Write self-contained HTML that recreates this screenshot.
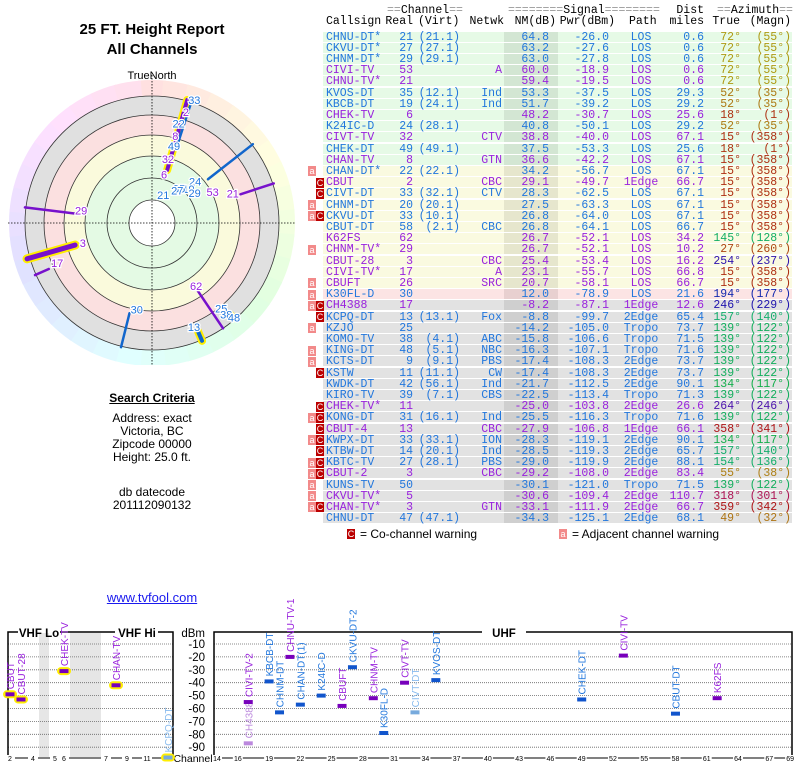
<!DOCTYPE html>
<html><head><meta charset="utf-8">
<style>
body{margin:0;width:800px;height:768px;background:#fff;position:relative;overflow:hidden;font-family:"Liberation Sans",sans-serif}
.t{position:absolute;white-space:nowrap}
.m{font-family:"Liberation Mono",monospace;font-size:11.5px}
.row{position:absolute;left:323px;width:469px;height:11.2px}
.c{position:absolute;top:0;line-height:11.2px;white-space:nowrap;font-family:"Liberation Mono",monospace;font-size:11.5px}
.w{position:absolute;width:8px;height:10px;font-size:9px;line-height:10px;color:#fff;text-align:center;font-family:"Liberation Sans",sans-serif}
</style></head><body>
<div class="t" style="left:52px;top:21px;width:200px;text-align:center;font-weight:bold;font-size:15px">25 FT. Height Report</div>
<div class="t" style="left:52px;top:41px;width:200px;text-align:center;font-weight:bold;font-size:15px">All Channels</div>
<svg id="polar" style="position:absolute;left:0;top:60px" width="300" height="305"></svg>
<div class="t" style="left:52px;top:391px;width:200px;text-align:center;font-weight:bold;font-size:12px;text-decoration:underline">Search Criteria</div>
<div class="t" style="left:52px;top:412px;width:200px;text-align:center;font-size:12px;line-height:13px">Address: exact<br>Victoria, BC<br>Zipcode 00000<br>Height: 25.0 ft.</div>
<div class="t" style="left:52px;top:486px;width:200px;text-align:center;font-size:12px;line-height:13px">db datecode<br>201112090132</div>
<div class="t" style="left:52px;top:590px;width:200px;text-align:center;font-size:13px;color:#1a1aee;text-decoration:underline">www.tvfool.com</div>
<div id="table"></div>
<div class="w" style="left:347px;top:529px;background:#bb0000">C</div>
<div class="t" style="left:360px;top:527px;font-size:12px">= Co-channel warning</div>
<div class="w" style="left:559px;top:529px;background:#f28a8a">a</div>
<div class="t" style="left:572px;top:527px;font-size:12px">= Adjacent channel warning</div>
<svg id="bars" style="position:absolute;left:0;top:0" width="800" height="768"></svg>
<script>
const rows=[
["CHNU-DT*","21","(21.1)","","64.8","-26.0","LOS","0.6","72°","(55°)","d","","g"],
["CKVU-DT*","27","(27.1)","","63.2","-27.6","LOS","0.6","72°","(55°)","d","","g"],
["CHNM-DT*","29","(29.1)","","63.0","-27.8","LOS","0.6","72°","(55°)","d","","g"],
["CIVI-TV","53","","A","60.0","-18.9","LOS","0.6","72°","(55°)","a","","g"],
["CHNU-TV*","21","","","59.4","-19.5","LOS","0.6","72°","(55°)","a","","g"],
["KVOS-DT","35","(12.1)","Ind","53.3","-37.5","LOS","29.3","52°","(35°)","d","","g"],
["KBCB-DT","19","(24.1)","Ind","51.7","-39.2","LOS","29.2","52°","(35°)","d","","g"],
["CHEK-TV","6","","","48.2","-30.7","LOS","25.6","18°","(1°)","a","","g"],
["K24IC-D","24","(28.1)","","40.8","-50.1","LOS","29.2","52°","(35°)","d","","g"],
["CIVT-TV","32","","CTV","38.8","-40.0","LOS","67.1","15°","(358°)","a","","g"],
["CHEK-DT","49","(49.1)","","37.5","-53.3","LOS","25.6","18°","(1°)","d","","g"],
["CHAN-TV","8","","GTN","36.6","-42.2","LOS","67.1","15°","(358°)","a","","g"],
["CHAN-DT*","22","(22.1)","","34.2","-56.7","LOS","67.1","15°","(358°)","d","a","y"],
["CBUT","2","","CBC","29.1","-49.7","1Edge","66.7","15°","(358°)","a","C","y"],
["CIVT-DT","33","(32.1)","CTV","28.3","-62.5","LOS","67.1","15°","(358°)","d","C","y"],
["CHNM-DT","20","(20.1)","","27.5","-63.3","LOS","67.1","15°","(358°)","d","a","y"],
["CKVU-DT","33","(10.1)","","26.8","-64.0","LOS","67.1","15°","(358°)","d","aC","y"],
["CBUT-DT","58","(2.1)","CBC","26.8","-64.1","LOS","66.7","15°","(358°)","d","","y"],
["K62FS","62","","","26.7","-52.1","LOS","34.2","145°","(128°)","a","","y"],
["CHNM-TV*","29","","","26.7","-52.1","LOS","10.2","27°","(260°)","a","a","y"],
["CBUT-28","3","","CBC","25.4","-53.4","LOS","16.2","254°","(237°)","a","","y"],
["CIVI-TV*","17","","A","23.1","-55.7","LOS","66.8","15°","(358°)","a","","y"],
["CBUFT","26","","SRC","20.7","-58.1","LOS","66.7","15°","(358°)","a","a","y"],
["K30FL-D","30","","","12.0","-78.9","LOS","21.6","194°","(177°)","d","a","p"],
["CH4388","17","","","-8.2","-87.1","1Edge","12.6","246°","(229°)","a","aC","x"],
["KCPQ-DT","13","(13.1)","Fox","-8.8","-99.7","2Edge","65.4","157°","(140°)","d","C","x"],
["KZJO","25","","","-14.2","-105.0","Tropo","73.7","139°","(122°)","d","a","x"],
["KOMO-TV","38","(4.1)","ABC","-15.8","-106.6","Tropo","71.5","139°","(122°)","d","","x"],
["KING-DT","48","(5.1)","NBC","-16.3","-107.1","Tropo","71.6","139°","(122°)","d","a","x"],
["KCTS-DT","9","(9.1)","PBS","-17.4","-108.3","2Edge","73.7","139°","(122°)","d","a","x"],
["KSTW","11","(11.1)","CW","-17.4","-108.3","2Edge","73.7","139°","(122°)","d","C","x"],
["KWDK-DT","42","(56.1)","Ind","-21.7","-112.5","2Edge","90.1","134°","(117°)","d","","x"],
["KIRO-TV","39","(7.1)","CBS","-22.5","-113.4","Tropo","71.3","139°","(122°)","d","","x"],
["CHEK-TV*","11","","","-25.0","-103.8","2Edge","26.6","264°","(246°)","a","C","x"],
["KONG-DT","31","(16.1)","Ind","-25.5","-116.3","Tropo","71.6","139°","(122°)","d","aC","x"],
["CBUT-4","13","","CBC","-27.9","-106.8","1Edge","66.1","358°","(341°)","a","C","x"],
["KWPX-DT","33","(33.1)","ION","-28.3","-119.1","2Edge","90.1","134°","(117°)","d","aC","x"],
["KTBW-DT","14","(20.1)","Ind","-28.5","-119.3","2Edge","65.7","157°","(140°)","d","C","x"],
["KBTC-TV","27","(28.1)","PBS","-29.0","-119.9","2Edge","88.1","154°","(136°)","d","aC","x"],
["CBUT-2","3","","CBC","-29.2","-108.0","2Edge","83.4","55°","(38°)","a","aC","x"],
["KUNS-TV","50","","","-30.1","-121.0","Tropo","71.5","139°","(122°)","d","a","x"],
["CKVU-TV*","5","","","-30.6","-109.4","2Edge","110.7","318°","(301°)","a","a","x"],
["CHAN-TV*","3","","GTN","-33.1","-111.9","2Edge","66.7","359°","(342°)","a","aC","x"],
["CHNU-DT","47","(47.1)","","-34.3","-125.1","2Edge","68.1","49°","(32°)","d","","x"]
];
function azColor(a){
  const t=[[0,0],[20,14],[50,38],[72,52],[140,150],[160,155],[194,232],[250,245],[264,262],[318,335],[360,360]];
  let h=0;for(let i=0;i<t.length-1;i++){if(a>=t[i][0]&&a<=t[i+1][0]){h=t[i][1]+(a-t[i][0])/(t[i+1][0]-t[i][0])*(t[i+1][1]-t[i][1]);break;}}
  return `hsl(${h%360},80%,38%)`;
}
const tb=document.getElementById('table');
const bgs={g:'#e6fae6',y:'#fafae0',p:'#fce4e4',x:'#e2e2e2'};
const nmbg={g:'#d3e6d3',y:'#e6e6cd',p:'#e8d0d0',x:'#cfcfcf'};
function cell(parent,txt,x,align,color,name){
  const s=document.createElement('span');s.className='c';s.textContent=txt;
  
  
  if(align==='r'){s.style.right=(792-x)+'px';}else if(align==='c'){s.style.left=(x-323-30)+'px';s.style.width='60px';s.style.textAlign='center';}else s.style.left=(x-323)+'px';
  s.style.color=color;parent.appendChild(s);
}
function hdr(txt,x,y,align,name){
  const d=document.createElement('div');d.className='t m';
  
  
  d.style.top=y+'px';d.style.lineHeight='11px';
  if(align==='r'){d.style.right=(800-x)+'px';}else d.style.left=x+'px';
  d.innerHTML=txt.replace(/(=+)/g,'<span style="color:#999">$1</span>');
  tb.appendChild(d);
}
hdr('==Channel==',387,5,'l','channel-group-header');
hdr('========Signal========',508,5,'l','signal-group-header');
hdr('Dist',704,5,'r','dist-header');
hdr('==Azimuth==',717,5,'l','azimuth-group-header');
hdr('Callsign',326,16,'l','callsign-header');
hdr('Real',413,16,'r','real-header');
hdr('(Virt)',418,16,'l','virt-header');
hdr('Netwk',504,16,'r','netwk-header');
hdr('NM(dB)',556,16,'r','nm-header');
hdr('Pwr(dBm)',615,16,'r','pwr-header');
hdr('Path',629,16,'l','path-header');
hdr('miles',704,16,'r','miles-header');
hdr('True',740,16,'r','true-header');
hdr('(Magn)',791,16,'r','magn-header');
const RH=11.2;
rows.forEach((r,i)=>{
  const top=31.5+i*RH;
  const row=document.createElement('div');row.className='row';
  
  
  row.style.top=top+'px';row.style.background=bgs[r[12]];
  row.style.borderBottom='1px solid #fff';row.style.boxSizing='border-box';
  const nm=document.createElement('div');nm.style.cssText=`position:absolute;left:181px;width:54px;top:0;height:100%;background:${nmbg[r[12]]}`;
  row.appendChild(nm);
  const col=r[10]==='d'?'#2277dd':'#9922dd';
  cell(row,r[0],326,'l',col,'callsign');
  cell(row,r[1],413,'r',col,'real-channel');
  cell(row,r[2],460,'r',col,'virtual-channel');
  cell(row,r[3],502,'r',col,'network');
  cell(row,r[4],549,'r',col,'nm-db');
  cell(row,r[5],609,'r',col,'power-dbm');
  cell(row,r[6],641,'c',col,'path');
  cell(row,r[7],704,'r',col,'distance');
  const ac=azColor(parseFloat(r[8]));
  cell(row,r[8],741,'r',ac,'azimuth-true');
  cell(row,r[9],791,'r',ac,'azimuth-magnetic');
  tb.appendChild(row);
  if(r[11].includes('a')){const w=document.createElement('div');w.className='w';w.textContent='a';
    
    
    w.style.left='308px';w.style.top=(top+0.5)+'px';w.style.background='#f28a8a';tb.appendChild(w);}
  if(r[11].includes('C')){const w=document.createElement('div');w.className='w';w.textContent='C';
    
    
    w.style.left='316px';w.style.top=(top+0.5)+'px';w.style.background='#bb0000';tb.appendChild(w);}
});

// ---------- Polar chart ----------
const polarAz=[16,18,52,72,277,254,246,194,146,157,139];
const polarRin=[55,78,71,93,75,80,113,93,77,117,120];
const polarRout=[128,128,128,128,128,130,128,128,127,128,125];
const polarColor=['#7711cc','#1166cc','#1166cc','#7711cc','#7711cc','#7711cc','#7711cc','#1166cc','#7711cc','#1166cc','#1166cc'];
const polarWidth=[4,2.5,2.5,2.5,2.5,5,2.5,2.5,2.5,4,2];
const polarHi=[1,0,0,0,0,1,0,0,0,1,1];
const polarLabels=['33','2','22','8','49','32','6','24','19','35','21','27','29','53','21','29','3','17','30','62','13','25','38','48'];
const polarLabelAz=[19,17,15,15,16,14,14,46,47,38,22,38,55,63,70,280,254,247,190,145,158,141,141,139];
const polarLabelR=[130,116,103,90,80,66,50,60,50,44,30,41,52,68,86,72,72,103,88,77,112,110,118,125];
const polarLabelColor=['#2277dd','#9922dd','#2277dd','#9922dd','#2277dd','#9922dd','#9922dd','#2277dd','#2277dd','#2277dd','#2277dd','#2277dd','#2277dd','#9922dd','#9922dd','#9922dd','#9922dd','#9922dd','#2277dd','#9922dd','#2277dd','#2277dd','#2277dd','#2277dd'];
const NS='http://www.w3.org/2000/svg';
const P=document.getElementById('polar');
const cx=152,cy=163;
function el(parent,tag,attrs,name){const e=document.createElementNS(NS,tag);for(const k in attrs)e.setAttribute(k,attrs[k]);
  
  
  parent.appendChild(e);return e;}
function pt(az,r){const a=az*Math.PI/180;return [cx+r*Math.sin(a),cy-r*Math.cos(a)];}
for(let a=0;a<360;a+=10){
  const [x1,y1]=pt(a-5.5,143),[x2,y2]=pt(a+5.5,143);
  el(P,'path',{d:`M${cx},${cy}L${x1},${y1}A143,143 0 0 1 ${x2},${y2}Z`,fill:`hsl(${a*0.95},100%,94%)`},'hue-ring-segment');
}
el(P,'circle',{cx,cy,r:127,fill:'#e0e0e0'},'band-weak');
el(P,'circle',{cx,cy,r:108,fill:'#fbe0e0'},'band-moderate');
el(P,'circle',{cx,cy,r:88,fill:'#fafadc'},'band-good');
el(P,'circle',{cx,cy,r:67,fill:'#e4fae4'},'band-strong');
[127,108,88,67,45].forEach(r=>el(P,'circle',{cx,cy,r,fill:'none',stroke:'#333','stroke-width':0.8},'range-ring'));
el(P,'circle',{cx,cy,r:23,fill:'#fff',stroke:'#333','stroke-width':0.8},'center-circle');
el(P,'line',{x1:8,y1:cy,x2:296,y2:cy,stroke:'#000','stroke-dasharray':'1.5,1.5','stroke-width':0.8},'crosshair-horizontal');
el(P,'line',{x1:cx,y1:15,x2:cx,y2:305,stroke:'#000','stroke-dasharray':'1.5,1.5','stroke-width':0.8},'crosshair-vertical');
const tn=el(P,'text',{x:cx,y:19,'text-anchor':'middle','font-size':11,'font-family':'Liberation Sans, sans-serif'},'true-north-label');tn.textContent='TrueNorth';
polarAz.forEach((az,i)=>{
  const [x1,y1]=pt(az,polarRin[i]),[x2,y2]=pt(az,polarRout[i]);
  if(polarHi[i])el(P,'line',{x1,y1,x2,y2,stroke:'#ffee00','stroke-width':polarWidth[i]+4,'stroke-linecap':'round'},'station-highlight');
  el(P,'line',{x1,y1,x2,y2,stroke:polarColor[i],'stroke-width':polarWidth[i],'stroke-linecap':'round'},'station-direction');
});
polarLabels.forEach((l,i)=>{
  const [x,y]=pt(polarLabelAz[i],polarLabelR[i]);
  const t=el(P,'text',{x,y:y+4,'text-anchor':'middle','font-size':11,fill:polarLabelColor[i],stroke:'#fff','stroke-width':2.5,'paint-order':'stroke','font-family':'Liberation Sans, sans-serif'},'channel-label');
  t.textContent=l;
});

// ---------- Bar chart ----------
const dbTicks=[-10,-20,-30,-40,-50,-60,-70,-80,-90];
const vhfCh=[2,3,4,5,6,7,8,9,10,11,12,13];
const vhfTickLabels=[2,4,5,6,7,9,11,13];
const uhfTickLabels=[14,16,19,22,25,28,31,34,37,40,43,46,49,52,55,58,61,64,67,69];
const barNames=['CBUT','CBUT-28','CHEK-TV','CHAN-TV','KCPQ-DT','CH4388','CIVI-TV-2','KBCB-DT','CHNM-DT','CHNU-TV-1','CHAN-DT(1)','K24IC-D','CBUFT','CKVU-DT-2','CHNM-TV','K30FL-D','CIVT-TV','CIVT-DT','KVOS-DT','CHEK-DT','CIVI-TV','CBUT-DT','K62FS'];
const barChannels=[2,3,6,8,13,17,17,19,20,21,22,24,26,27,29,30,32,33,35,49,53,58,62];
const barDbm=[-49,-53,-31,-42,-98,-87,-55,-39,-63,-20,-57,-50,-58,-28,-52,-79,-40,-63,-38,-53,-19,-64,-52];
const barType=['a','a','a','a','l','la','a','d','d','a','d','d','a','d','a','d','a','l','d','d','a','d','a'];
const barHi=[1,1,1,1,1,0,0,0,0,0,0,0,0,0,0,0,0,0,0,0,0,0,0];
const vhfX=[10,21,33,55,64,106,116,127,137,147,158,168];
const B=document.getElementById('bars');
function yS(v){return 644+(-10-v)*1.29;}
function xS(ch){if(ch<=13)return vhfX[vhfCh.indexOf(ch)];return 217+(ch-14)*10.42;}
el(B,'rect',{x:39,y:633,width:10,height:124,fill:'#e6e6e6'},'vhf-gap-band');
el(B,'rect',{x:70,y:633,width:31,height:124,fill:'#e6e6e6'},'vhf-gap-band');
dbTicks.forEach(v=>{
  el(B,'line',{x1:8,x2:173,y1:yS(v),y2:yS(v),stroke:'#666','stroke-dasharray':'1,1','stroke-width':0.8},'gridline');
  el(B,'line',{x1:214,x2:792,y1:yS(v),y2:yS(v),stroke:'#666','stroke-dasharray':'1,1','stroke-width':0.8},'gridline');
  const t=el(B,'text',{x:205,y:yS(v)+4,'text-anchor':'end','font-size':11.5,'font-family':'Liberation Sans, sans-serif'},'y-tick-label');t.textContent=v;
});
const dl=el(B,'text',{x:205,y:637,'text-anchor':'end','font-size':11.5,'font-family':'Liberation Sans, sans-serif'},'y-axis-title');dl.textContent='dBm';
el(B,'path',{d:'M18,632H8V758M173,758V632H158M60,632H115',fill:'none',stroke:'#000','stroke-width':1.5},'vhf-box');
el(B,'path',{d:'M214,758V632H482M526,632H792V758',fill:'none',stroke:'#000','stroke-width':1.5},'uhf-box');
[['VHF Lo',39,'vhf-lo-title'],['VHF Hi',137,'vhf-hi-title'],['UHF',504,'uhf-title']].forEach(a=>{
  const t=el(B,'text',{x:a[1],y:637,'text-anchor':'middle','font-size':11.5,'font-weight':'bold','font-family':'Liberation Sans, sans-serif'},a[2]);t.textContent=a[0];});
el(B,'line',{x1:8,x2:173,y1:758,y2:758,stroke:'#000','stroke-width':1},'vhf-channel-axis');
el(B,'line',{x1:214,x2:792,y1:758,y2:758,stroke:'#000','stroke-width':1},'uhf-channel-axis');
const cl=el(B,'text',{x:193,y:762,'text-anchor':'middle','font-size':10.5,'font-family':'Liberation Sans, sans-serif'},'x-axis-title');cl.textContent='Channel';
vhfTickLabels.concat(uhfTickLabels).forEach(ch=>{
  const x=xS(ch);
  el(B,'rect',{x:x-5,y:755,width:10,height:7,fill:'#fff'},'tick-bg');
  const t=el(B,'text',{x,y:761,'text-anchor':'middle','font-size':7,'font-family':'Liberation Sans, sans-serif'},'x-tick-label');t.textContent=ch;
});
const bcol={a:'#7700bb',d:'#1155cc',l:'#77aadd',la:'#bb88dd'};
const lcol={a:'#9922dd',d:'#2277dd',l:'#88bbee',la:'#bb88dd'};
barNames.forEach((n,i)=>{
  const x=xS(barChannels[i]);let y=yS(barDbm[i]);if(y>758)y=758;
  if(barHi[i])el(B,'rect',{x:x-7,y:y-4,width:14,height:8,rx:4,fill:'#ffee00'},'bar-highlight');
  el(B,'rect',{x:x-4.5,y:y-2,width:9,height:4,fill:bcol[barType[i]]},'signal-bar');
  const t=el(B,'text',{x:0,y:0,transform:`translate(${x+4},${y-5}) rotate(-90)`,'font-size':10,fill:lcol[barType[i]],'font-family':'Liberation Sans, sans-serif'},'bar-label');
  t.textContent=n;
});
</script>
</body></html>
